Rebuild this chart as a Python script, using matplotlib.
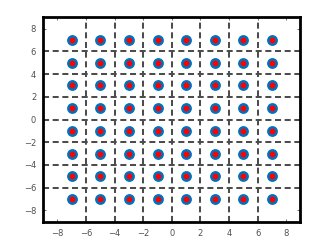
import numpy as np
import matplotlib
matplotlib.use('Agg')
import matplotlib.pyplot as plt

# 64-QAM constellation levels
levels = [-7, -5, -3, -1, 1, 3, 5, 7]
grid_lines = [-6, -4, -2, 0, 2, 4, 6]
ticks = [-8, -6, -4, -2, 0, 2, 4, 6, 8]

xs = [i for i in levels for j in levels]
ys = [j for i in levels for j in levels]

fig = plt.figure(figsize=(3.32, 2.49), dpi=100)
ax = fig.add_axes([0.13, 0.11, 0.775, 0.82])

# decision boundaries
for g in grid_lines:
    ax.plot([g, g], [-9, 9], color='#4d4d4d', lw=1.45, ls=(0, (3, 1.8)), zorder=1)
    ax.plot([-9, 9], [g, g], color='#4d4d4d', lw=1.45, ls=(0, (3, 1.8)), zorder=1)

# received symbols (cloud) and ideal points
ax.plot(xs, ys, 'o', color='#0072BD', ms=7.8, mec='none', zorder=2)
ax.plot(xs, ys, 'o', color='red', ms=4.2, mec='none', zorder=3)

ax.set_xlim(-9, 9)
ax.set_ylim(-9, 9)
ax.set_xticks(ticks)
ax.set_yticks(ticks)
ax.tick_params(direction='in', length=2.5, width=0.6, labelsize=6,
               labelcolor='#505050', color='#505050', top=True, right=True, pad=5)
for s in ax.spines.values():
    s.set_linewidth(2.0)
    s.set_color('black')

plt.savefig('out.png', dpi=100)
